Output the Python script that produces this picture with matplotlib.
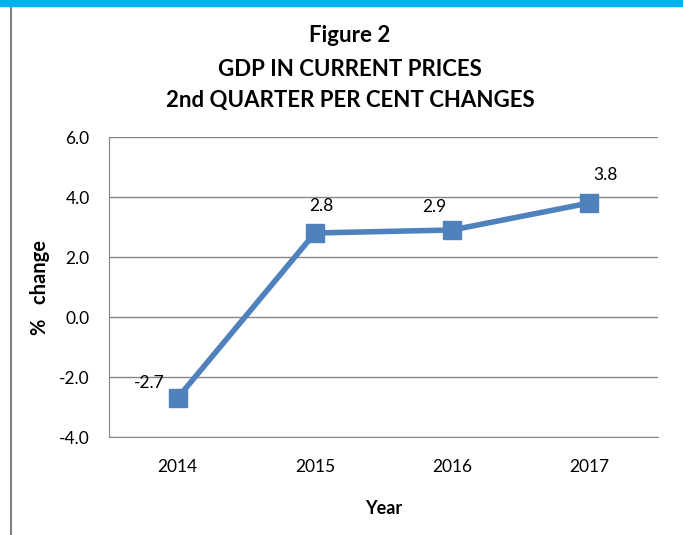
import matplotlib.pyplot as plt
import numpy as np

plt.rcParams['font.family'] = ['Lato', 'DejaVu Sans']

# データ
years = ["2014", "2015", "2016", "2017"]
change = [-2.7, 2.8, 2.9, 3.8]
yticks = [-4.0, -2.0, 0.0, 2.0, 4.0, 6.0]

fig = plt.figure(figsize=(6.83, 5.35), dpi=100)
ax = fig.add_axes([109 / 683, 1 - 437 / 535, 549 / 683, 300 / 535])

x = np.arange(len(years)) + 0.5
ax.plot(x, change, color="#4F81BD", lw=4, marker="s", markersize=13,
        markeredgecolor="#4F81BD", zorder=3)

# データラベル
offsets = [(-28, 15), (6, 27), (-18, 23), (16, 28)]
for xi, v, (dx, dy) in zip(x, change, offsets):
    ax.annotate(f"{v:.1f}", (xi, v), xytext=(dx, dy), textcoords="offset pixels",
                ha="center", va="center", fontsize=12.5)

ax.set_xlim(0, 4)
ax.set_ylim(-4, 6)
ax.set_xticks(x)
ax.set_xticklabels(years, fontsize=12.5)
ax.set_yticks(yticks)
ax.set_yticklabels([f"{t:.1f}" for t in yticks], fontsize=12.5)
ax.tick_params(length=0, pad=14)
ax.tick_params(axis="x", pad=16)
ax.grid(axis="y", color="#868686", lw=1)
ax.set_axisbelow(True)
for s in ["top", "right"]:
    ax.spines[s].set_visible(False)
for s in ["left", "bottom"]:
    ax.spines[s].set_color("#868686")

ax.set_xlabel("Year", fontsize=13, fontweight="bold", labelpad=18)
ax.set_ylabel("%   change", fontsize=14.5, fontweight="bold", labelpad=6)

fig.text(350 / 683, 1 - 35 / 535, "Figure 2", ha="center", va="center",
         fontsize=16, fontweight="bold")
fig.text(350 / 683, 1 - 69 / 535, "GDP IN CURRENT PRICES", ha="center", va="center",
         fontsize=16, fontweight="bold")
fig.text(350 / 683, 1 - 101 / 535, "2nd QUARTER PER CENT CHANGES", ha="center", va="center",
         fontsize=16, fontweight="bold")

# 枠線
fig.patches.append(plt.Rectangle((0, 1 - 6 / 535), 1, 6 / 535, transform=fig.transFigure,
                                 color="#00B0F0", zorder=5))
fig.lines.append(plt.Line2D([11 / 683, 11 / 683], [0, 1 - 6 / 535], transform=fig.transFigure,
                            color="#808080", lw=1.5))

fig.savefig("out.png", dpi=100)
